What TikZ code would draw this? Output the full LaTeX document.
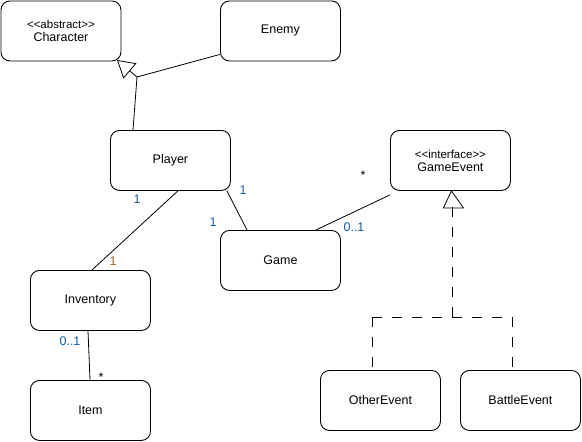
\documentclass[tikz,border=0pt]{standalone}
\usepackage{fontspec}
\setmainfont{Liberation Sans}
\usetikzlibrary{arrows.meta}
\definecolor{mblue}{RGB}{16,90,160}
\definecolor{morange}{RGB}{170,90,20}
\begin{document}
\begin{tikzpicture}[x=1pt,y=-1pt,
  cls/.style={draw, rounded corners=9pt, minimum width=120pt, minimum height=60pt, inner sep=0pt, line width=0.9pt, font=\fontsize{12.5}{14}\selectfont, align=center, anchor=north west},
  lbl/.style={font=\fontsize{12.5}{14}\selectfont, inner sep=0pt},
  conn/.style={line width=0.8pt},
  gen/.style={line width=0.8pt, -{Triangle[open, length=17pt, width=20pt]}},
  dsh/.style={line width=0.8pt, dash pattern=on 10pt off 10pt}]
\useasboundingbox (0,0) rectangle (582,442);
\node[cls] (char) at (0.5,0.5) {{\fontsize{11.5}{13}\selectfont <{}<abstract>{}>}\\[-1pt]Character};
\node[cls] (enemy) at (220,0.5) {Enemy};
\node[cls] (player) at (110,130) {Player};
\node[cls] (game) at (220,230) {Game};
\node[cls] (gevent) at (390,130) {{\fontsize{11.5}{13}\selectfont <{}<interface>{}>}\\[-1pt]GameEvent};
\node[cls] (inv) at (30,270) {Inventory};
\node[cls] (item) at (30,380) {Item};
\node[cls] (other) at (320,370) {OtherEvent};
\node[cls] (battle) at (460,370) {BattleEvent};
% generalization to Character
\coordinate (j) at (137,77);
\coordinate (chartip) at (117,60);
\draw[conn] (player.north west) ++(23,0) coordinate (pt) -- (j);
\draw[conn] (enemy.south west) ++(0,-7) coordinate (et) -- (j);
\draw[gen] (j) -- (chartip);
% associations
\draw[conn] ([xshift=-4pt]player.south east) -- ([xshift=27pt]game.north west);
\draw[conn] ([xshift=-25pt]game.north east) -- ([yshift=-4pt]gevent.south west);
\draw[conn] ([xshift=-53pt]player.south east) -- ([xshift=62pt]inv.north west);
\draw[conn] ([xshift=58pt]inv.south west) -- ([xshift=60pt]item.north west);
% realization
\coordinate (rtop) at (452,207);
\coordinate (rmid) at (452,317);
\coordinate (rl) at (372,317);
\coordinate (rr) at (512,317);
\draw[line width=0.8pt] (gevent.south) ++(1,0) -- ++(-8,17) -- ++(20,0) -- cycle;
\draw[dsh] (rtop) -- (rmid);
\draw[dsh] (rl) -- (rr);
\draw[dsh] (rl) -- (rl |- other.north);
\draw[dsh] (rr) -- (rr |- battle.north);
% labels
\node[lbl, text=mblue] at (137,199) {1};
\node[lbl, text=mblue] at (243,190) {1};
\node[lbl, text=mblue] at (213,222) {1};
\node[lbl, text=morange] at (113,261) {1};
\node[lbl, text=mblue] at (354,227) {0..1};
\node[lbl] at (363,175) {*};
\node[lbl, text=mblue] at (70,341) {0..1};
\node[lbl] at (101,377) {*};
\end{tikzpicture}
\end{document}
